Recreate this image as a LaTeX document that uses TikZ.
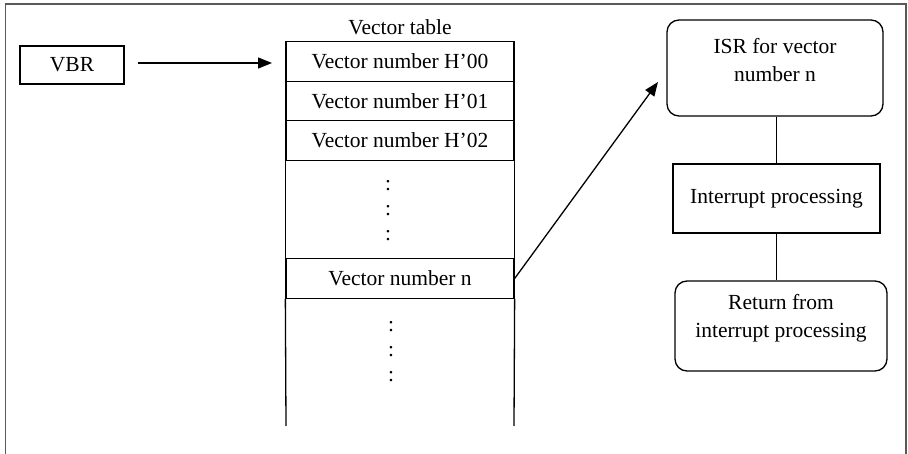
\documentclass[tikz,border=0pt]{standalone}
\usepackage{fontspec}
\setmainfont{Liberation Serif}
\usetikzlibrary{arrows.meta}
\begin{document}
\begin{tikzpicture}[x=1pt,y=-1pt,
  every node/.style={font=\fontsize{21.5}{28}\selectfont, inner sep=0pt},
  ln/.style={line width=1.3pt, black},
  box/.style={draw, line width=1.3pt, rectangle, align=center},
  rbox/.style={box, rounded corners=12pt},
  row/.style={box, minimum width=228pt, minimum height=39.5pt},
  arr/.style={ln, -{Triangle[length=14pt,width=11pt]}},
  col/.style={inner sep=0pt}]
\useasboundingbox (0,0) rectangle (908,454);
% outer frame (open at bottom)
\draw[line width=1.4pt, black!65] (5.5,454) -- (5.5,4) -- (906,4) -- (906,454);
% VBR
\node[box, minimum width=104pt, minimum height=38pt] (vbr) at (72,65) {VBR};
% vector table
\node (vt) at (400,27) {Vector table};
\node[row] (r0) at (400,61.5) {Vector number H’00};
\node[row] (r1) at (400,101) {Vector number H’01};
\node[row] (r2) at (400,140.5) {Vector number H’02};
\node[row] (rn) at (400,278.5) {Vector number n};
\coordinate (bl) at (286,426);
\coordinate (br) at (514,426);
\draw[ln] (r2.south west) -- (rn.north west);
\draw[ln] (r2.south east) -- (rn.north east);
\draw[ln] (rn.south west) -- (bl);
\draw[ln] (rn.south east) -- (br);
% dots
\node[col] (d1) at (388,186) {:};
\node[col] (d2) at (388,211) {:};
\node[col] (d3) at (388,236) {:};
\node[col] (d4) at (391,327) {:};
\node[col] (d5) at (391,352) {:};
\node[col] (d6) at (391,377) {:};
% right side
\node[rbox, minimum width=216pt, minimum height=96pt] (isr) at (775,68) {};
\node[align=center] (isrt) at (775,60) {ISR for vector\\number n};
\node[box, minimum width=207pt, minimum height=69pt] (ip) at (776.5,198.5) {Interrupt processing};
\node[rbox, minimum width=212pt, minimum height=90pt] (ret) at (781,326) {};
\node[align=center] (rett) at (781,318) {Return from\\interrupt processing};
\draw[ln] (isr.south -| ip.north) -- (ip.north);
\draw[ln] (ip.south) -- (ip.south |- ret.north);
% arrows
\coordinate (va) at (138,63);
\coordinate (vb) at (272,63);
\draw[arr] (va) -- (vb);
\coordinate (tip) at (658,82);
\draw[arr] (rn.east) -- (tip);
\end{tikzpicture}
\end{document}
